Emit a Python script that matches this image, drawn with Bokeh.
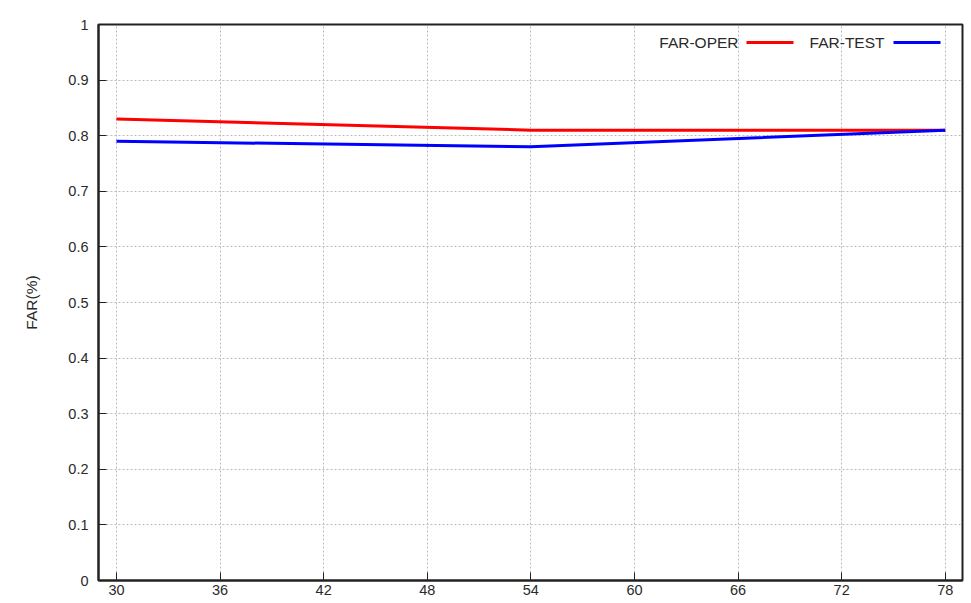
from bokeh.plotting import figure
from bokeh.models import FixedTicker, CustomJSTickFormatter, Label, BoxAnnotation, Range1d
from bokeh.embed import file_html
from bokeh.resources import INLINE

# Data
x_vals = [30, 54, 78]
far_oper = [0.83, 0.81, 0.81]
far_test = [0.79, 0.78, 0.81]
x_ticks = [30, 36, 42, 48, 54, 60, 66, 72, 78]
y_ticks = [0, 0.1, 0.2, 0.3, 0.4, 0.5, 0.6, 0.7, 0.8, 0.9, 1.0]
series_names = ["FAR-OPER", "FAR-TEST"]
series_colors = ["#ff0000", "#0000ff"]

FONT = "Liberation Sans"

p = figure(width=971, height=603, output_backend="svg", toolbar_location=None,
           x_range=Range1d(28.96, 79.0), y_range=Range1d(0, 1),
           min_border_left=98, min_border_right=9, min_border_top=24, min_border_bottom=23)

p.background_fill_color = "white"
p.border_fill_color = "white"
p.outline_line_color = "#222222"
p.outline_line_width = 2

p.line(x_vals, far_oper, line_color=series_colors[0], line_width=3)
p.line(x_vals, far_test, line_color=series_colors[1], line_width=3)

for ax in (p.xaxis[0], p.yaxis[0]):
    ax.axis_line_color = "#222222"
    ax.axis_line_width = 2
    ax.major_tick_in = 8
    ax.major_tick_out = 0
    ax.major_tick_line_color = "#222222"
    ax.major_tick_line_width = 1
    ax.minor_tick_line_color = None
    ax.major_label_text_font = FONT
    ax.major_label_text_font_size = "14.5px"
    ax.major_label_text_color = "#2a2a2a"

p.xaxis.ticker = FixedTicker(ticks=x_ticks)
p.yaxis.ticker = FixedTicker(ticks=y_ticks)
p.yaxis.formatter = CustomJSTickFormatter(code="return String(Number(tick.toFixed(1)));")
p.xaxis.major_label_standoff = 4
p.yaxis.major_label_standoff = 10

p.yaxis.axis_label = "FAR(%)"
p.yaxis.axis_label_text_font = FONT
p.yaxis.axis_label_text_font_size = "15.5px"
p.yaxis.axis_label_text_font_style = "normal"
p.yaxis.axis_label_text_color = "#2a2a2a"
p.yaxis.axis_label_standoff = 25

for g in (p.xgrid[0], p.ygrid[0]):
    g.grid_line_color = "#bbbbbb"
    g.grid_line_dash = "2 2"
    g.grid_line_width = 1
p.xgrid.ticker = FixedTicker(ticks=x_ticks)
p.ygrid.ticker = FixedTicker(ticks=y_ticks)

# Legend (gnuplot style: text then line sample), positioned in screen units of the frame
legend_text_right = [640, 786]
legend_line_left = [648, 795]
legend_line_w = 47
legend_y = 538
for name, col, tr, ll in zip(series_names, series_colors, legend_text_right, legend_line_left):
    p.add_layout(Label(x=tr, y=legend_y, x_units="screen", y_units="screen", text=name,
                       text_align="right", text_baseline="middle", text_font=FONT,
                       text_font_size="15.5px", text_color="#2a2a2a"))
    p.add_layout(BoxAnnotation(left=ll, right=ll + legend_line_w, bottom=legend_y - 1.5,
                               top=legend_y + 1.5, left_units="screen", right_units="screen",
                               bottom_units="screen", top_units="screen",
                               fill_color=col, fill_alpha=1, line_color=None))

open("out.html", "w").write(file_html(p, INLINE))
